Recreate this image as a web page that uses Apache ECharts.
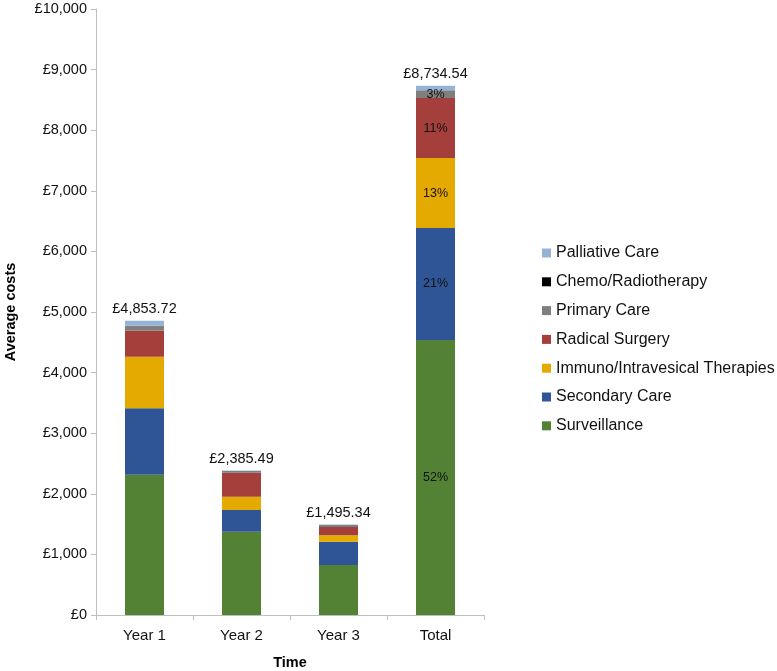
<!DOCTYPE html>
<html><head><meta charset="utf-8">
<script src="https://cdn.jsdelivr.net/npm/echarts@6/dist/echarts.min.js"></script>
<style>html,body{margin:0;padding:0;background:#fff}#c{width:777px;height:671px}</style>
</head><body><div id="c"></div>
<script>
var categories = ['Year 1', 'Year 2', 'Year 3', 'Total'];
var surveillance = [2315, 1375, 825, 4540];
var secondaryCare = [1096, 358, 385, 1845];
var immuno = [851, 219, 105, 1155];
var radicalSurgery = [429, 396, 137, 990];
var primaryCare = [83, 30, 33, 130];
var chemo = [0, 0, 0, 0];
var palliative = [80, 7, 10, 75];
var totals = ['£4,853.72', '£2,385.49', '£1,495.34', '£8,734.54'];
var pctSurveillance = ['', '', '', '52%'];
var pctSecondary = ['', '', '', '21%'];
var pctImmuno = ['', '', '', '13%'];
var pctRadical = ['', '', '', '11%'];
var pctPrimary = ['', '', '', '3%'];
var yTicks = [0, 1000, 2000, 3000, 4000, 5000, 6000, 7000, 8000, 9000, 10000];

var FONT = '"Liberation Sans", Arial, sans-serif';
function fmt(v){ return '£' + String(v).replace(/\B(?=(\d{3})+(?!\d))/g, ','); }
function pctLabel(arr){
  return {show: true, position: 'inside', color: '#111', fontSize: 12.5, fontFamily: FONT,
    formatter: function(p){ return arr[p.dataIndex]; }};
}
function s(name, data, color, labels){
  return {name: name, type: 'bar', stack: 'a', data: data, barWidth: 39,
    itemStyle: {color: color}, label: labels ? pctLabel(labels) : {show: false},
    emphasis: {disabled: true}};
}
var series = [
  s('Surveillance', surveillance, '#548235', pctSurveillance),
  s('Secondary Care', secondaryCare, '#2f5597', pctSecondary),
  s('Immuno/Intravesical Therapies', immuno, '#e5aa00', pctImmuno),
  s('Radical Surgery', radicalSurgery, '#a53f3b', pctRadical),
  s('Primary Care', primaryCare, '#7f7f7f', pctPrimary),
  s('Chemo/Radiotherapy', chemo, '#000000', null),
  s('Palliative Care', palliative, '#95b3d7', null),
  {name: 'totalLabel', type: 'bar', stack: 'a', data: [0, 0, 0, 0], barWidth: 39,
   itemStyle: {color: 'transparent'},
   label: {show: true, position: 'top', distance: 4, color: '#111', fontSize: 14.5, fontFamily: FONT,
     formatter: function(p){ return totals[p.dataIndex]; }}}
];
var chart = echarts.init(document.getElementById('c'));
chart.setOption({
  animation: false,
  textStyle: {fontFamily: FONT},
  grid: {left: 96, top: 9, right: 293, bottom: 56, outerBoundsMode: 'none', containLabel: false},
  legend: {
    orient: 'vertical', left: 542, top: 245, itemGap: 12.8, padding: 0,
    itemWidth: 9, itemHeight: 9, icon: 'rect',
    textStyle: {fontSize: 16, color: '#111', fontFamily: FONT},
    data: ['Palliative Care', 'Chemo/Radiotherapy', 'Primary Care', 'Radical Surgery',
           'Immuno/Intravesical Therapies', 'Secondary Care', 'Surveillance']
  },
  xAxis: {
    type: 'category', data: categories,
    name: 'Time', nameLocation: 'middle', nameGap: 40,
    nameTextStyle: {fontSize: 14.5, fontWeight: 'bold', color: '#000', fontFamily: FONT},
    axisLine: {lineStyle: {color: '#bfbfbf', width: 1}},
    axisTick: {show: true, length: 5, lineStyle: {color: '#bfbfbf'}},
    axisLabel: {fontSize: 15, color: '#111', margin: 13, fontFamily: FONT}
  },
  yAxis: {
    type: 'value', min: yTicks[0], max: yTicks[yTicks.length - 1], interval: 1000,
    name: 'Average costs', nameLocation: 'middle', nameGap: 78, nameRotate: 90,
    nameTextStyle: {fontSize: 14.5, fontWeight: 'bold', color: '#000', fontFamily: FONT},
    axisLine: {show: true, lineStyle: {color: '#bfbfbf', width: 1}},
    axisTick: {show: true, length: 5, lineStyle: {color: '#bfbfbf'}},
    splitLine: {show: false},
    axisLabel: {fontSize: 14.5, color: '#111', margin: 9, fontFamily: FONT, formatter: fmt}
  },
  series: series
});
</script></body></html>
